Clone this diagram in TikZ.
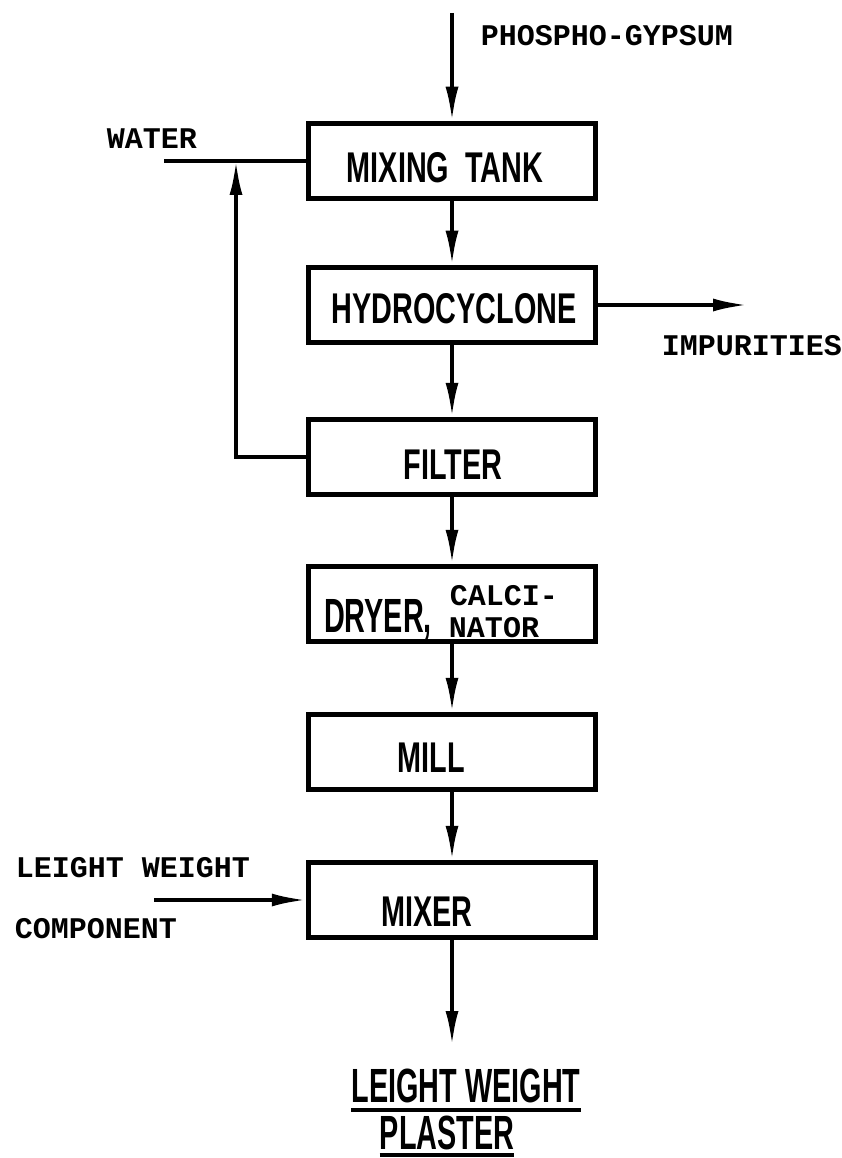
\documentclass[tikz,border=0pt]{standalone}
\usepackage{fontspec}
\usetikzlibrary{arrows.meta}
\newfontfamily\boxfont[FakeStretch=0.67]{Liberation Sans}
\newfontfamily\prodfont[FakeStretch=0.6]{Liberation Sans}
\newfontfamily\tagfont{Liberation Mono}

\begin{document}
\begin{tikzpicture}[x=1pt, y=-1pt,
		box/.style={draw, line width=5.5pt, minimum width=287pt, minimum height=75pt, inner sep=0pt},
		boxtxt/.style={font=\boxfont\bfseries\fontsize{43}{47}\selectfont, inner sep=0pt},
		tag/.style={font=\tagfont\bfseries\fontsize{30}{34}\selectfont, inner sep=0pt},
		prod/.style={font=\prodfont\bfseries\fontsize{48}{52}\selectfont, inner sep=0pt},
		flow/.style={line width=3.5pt, -{Latex[length=34pt,width=13pt]}}]
			
			\useasboundingbox (0,0) rectangle (842,1158);
			
			% process boxes
			\node[box] (mix) at (452,161) {};
			\node[box] (hyd) at (452,305) {};
			\node[box] (fil) at (452,457) {};
			\node[box] (dry) at (452,604) {};
			\node[box] (mill) at (452,752) {};
			\node[box] (mxr) at (452,900) {};
			
			\node[boxtxt] (mixtxt) at (445,168) {MIXING\ \ TANK};
			\node[boxtxt] (hydtxt) at (454,309) {HYDROCYCLONE};
			\node[boxtxt] (filtxt) at (453,465) {FILTER};
			\node[tag] (calci) at (504,596) {CALCI-};
			\node[prod] (dryer) at (378,620) {DRYER,};
			\node[tag] (nator) at (494,628) {NATOR};
			\node[boxtxt] (milltxt) at (431,758) {MILL};
			\node[boxtxt] (mxrtxt) at (427,912) {MIXER};
			
			% main line
			\coordinate (pg) at (452,13);
			\draw[flow] (pg) -- (mix);
			\draw[flow] (mix) -- (hyd);
			\draw[flow] (hyd) -- (fil);
			\draw[flow] (fil) -- (dry);
			\draw[flow] (dry) -- (mill);
			\draw[flow] (mill) -- (mxr);
			\coordinate (out) at (452,1045);
			\draw[flow] (mxr) -- (out);
			\node[tag] (pglbl) at (607,36) {PHOSPHO-GYPSUM};
			
			% water and return
			\coordinate (w0) at (164,161);
			\coordinate (jn) at (236,161);
			\draw[line width=3.5pt] (w0) -- (mix.west);
			\draw[flow] (fil.west) -| (jn);
			\node[tag] (water) at (152,139) {WATER};
			
			% impurities
			\coordinate (imp) at (747,305);
			\draw[flow] (hyd.east) -- (imp);
			\node[tag] (implbl) at (752,346) {IMPURITIES};
			
			% light weight component
			\coordinate (lw) at (154,900);
			\draw[flow] (lw) -- (mxr.west);
			\node[tag] (lwlbl) at (133,868) {LEIGHT WEIGHT};
			\node[tag] (cmplbl) at (96,929) {COMPONENT};
			
			% product
			\node[prod] (prod1) at (466,1086) {LEIGHT WEIGHT};
			\node[prod] (prod2) at (447,1133) {PLASTER};
			\draw[line width=3.5pt] ([yshift=-7pt]prod1.south west) -- ([yshift=-7pt]prod1.south east);
			\draw[line width=3.5pt] ([yshift=-5pt]prod2.south west) -- ([yshift=-5pt]prod2.south east);
			
		\end{tikzpicture}
\end{document}
